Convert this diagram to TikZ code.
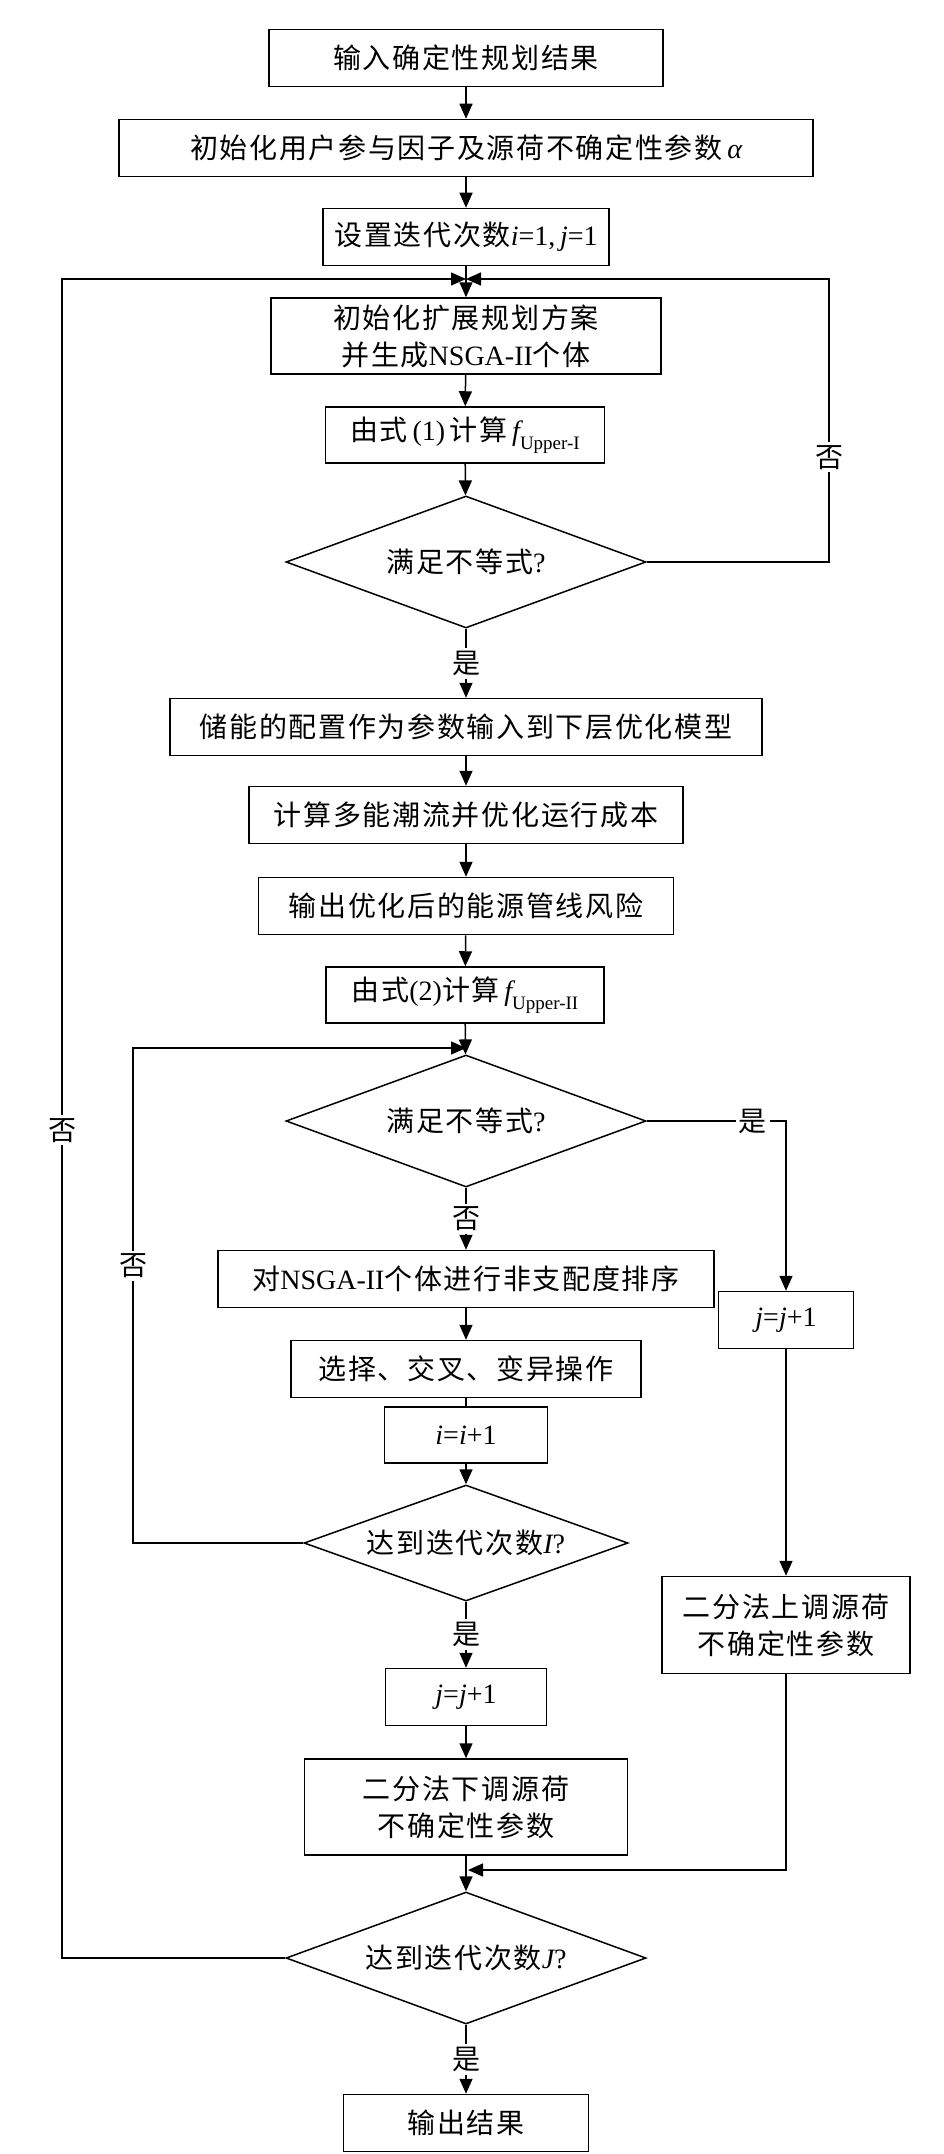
\documentclass[tikz,border=0pt]{standalone}
\usepackage{fontspec}
\setmainfont{Liberation Serif}
\newfontfamily\cjk[LetterSpace=6]{Noto Sans CJK SC}
\usetikzlibrary{shapes.geometric,arrows.meta}
\newcommand{\ital}[1]{{\rmfamily\itshape #1}}
\newcommand{\rmt}[1]{{\rmfamily #1}}
\newcommand{\subsc}[1]{\raisebox{-0.3em}{\rmfamily\fontsize{19}{19}\selectfont #1}}
\begin{document}
\begin{tikzpicture}[x=1pt,y=-1pt,
  txt/.style={font={\cjk\fontsize{28}{37}\selectfont}},
  box/.style={txt,draw,line width=1.5pt,inner sep=0pt,align=center,minimum height=57pt},
  dia/.style={txt,draw,line width=1.5pt,diamond,aspect=2.73,inner sep=0pt,minimum width=360pt,minimum height=132pt},
  lab/.style={txt,fill=white,inner sep=3pt},
  arr/.style={line width=1.5pt,-{Triangle[length=15pt,width=13pt]}},
  ln/.style={line width=1.5pt}]
\useasboundingbox (0,0) rectangle (944,2154);
% main column
\node[box,minimum width=394pt] (b1) at (466,58) {输入确定性规划结果};
\node[box,minimum width=694pt] (b2) at (466,148) {初始化用户参与因子及源荷不确定性参数\,\ital{α}};
\node[box,minimum width=286pt] (b3) at (466,237) {设置迭代次数\ital{i}\rmt{=1,\,}\ital{j}\rmt{=1}};
\node[box,minimum width=390pt,minimum height=76pt] (b4) at (466,336) {初始化扩展规划方案\\并生成\rmt{NSGA-II}个体};
\node[box,minimum width=279pt,minimum height=56pt] (b5) at (465,435) {由式\,\rmt{(1)}\,计算\,\ital{f}\subsc{Upper-I}};
\node[dia] (d1) at (466,562) {满足不等式\rmt{?}};
\node[box,minimum width=592pt] (b6) at (466,727) {储能的配置作为参数输入到下层优化模型};
\node[box,minimum width=434pt] (b7) at (466,815) {计算多能潮流并优化运行成本};
\node[box,minimum width=415pt] (b8) at (466,906) {输出优化后的能源管线风险};
\node[box,minimum width=278pt,minimum height=56pt] (b9) at (465,995) {由式\rmt{(2)}计算\,\ital{f}\subsc{Upper-II}};
\node[dia] (d2) at (466,1121) {满足不等式\rmt{?}};
\node[box,minimum width=496pt] (b10) at (466,1279) {对\rmt{NSGA-II}个体进行非支配度排序};
\node[box,minimum width=350pt] (b11) at (466,1369) {选择、交叉、变异操作};
\node[box,minimum width=163pt,minimum height=56pt] (b12) at (466,1435) {\ital{i}\rmt{=}\ital{i}\rmt{+1}};
\node[dia,aspect=2.79,minimum width=324pt,minimum height=116pt] (d3) at (466,1543) {达到迭代次数\ital{I}\rmt{?}};
\node[box,minimum width=161pt] (b13) at (466,1697) {\ital{j}\rmt{=}\ital{j}\rmt{+1}};
\node[box,minimum width=323pt,minimum height=96pt] (b14) at (466,1807) {二分法下调源荷\\不确定性参数};
\node[dia] (d4) at (466,1958) {达到迭代次数\ital{J}\rmt{?}};
\node[box,minimum width=245pt] (b15) at (466,2123) {输出结果};
% right column
\node[box,minimum width=135pt] (bj1) at (786,1320) {\ital{j}\rmt{=}\ital{j}\rmt{+1}};
\node[box,minimum width=248pt,minimum height=97pt] (br2) at (786,1625) {二分法上调源荷\\不确定性参数};
% junction coordinates
\coordinate (j1) at (466,279);
\coordinate (j2) at (466,1048);
\coordinate (j3) at (468,1870);
\coordinate (r1) at (829,562);
\coordinate (r2) at (829,279);
\coordinate (l1) at (62,1958);
\coordinate (l2) at (62,279);
\coordinate (i1) at (133,1543);
\coordinate (i2) at (133,1048);
\coordinate (y1) at (786,1121);
\coordinate (m1) at (786,1870);
% main connectors
\draw[arr] (b1) -- (b2);
\draw[arr] (b2) -- (b3);
\draw[arr] (b3) -- (b4);
\draw[arr] (b4) -- (b5);
\draw[arr] (b5) -- (d1);
\draw[arr] (d1) -- node[lab]{是} (b6);
\draw[arr] (b6) -- (b7);
\draw[arr] (b7) -- (b8);
\draw[arr] (b8) -- (b9);
\draw[arr] (b9) -- (d2);
\draw[arr] (d2) -- node[lab]{否} (b10);
\draw[arr] (b10) -- (b11);
\draw[ln] (b11) -- (b12);
\draw[arr] (b12) -- (d3);
\draw[arr] (d3) -- node[lab]{是} (b13);
\draw[arr] (b13) -- (b14);
\draw[arr] (b14) -- (d4);
\draw[arr] (d4) -- node[lab]{是} (b15);
% loops
\draw[arr] (d1.east) -- (r1) -- node[lab,pos=0.37]{否} (r2) -- (j1);
\draw[arr] (d4.west) -- (l1) -- node[lab,pos=0.493]{否} (l2) -- (j1);
\draw[arr] (d3.west) -- (i1) -- node[lab,pos=0.56]{否} (i2) -- (j2);
\draw[arr] (d2.east) -- node[lab,pos=0.76]{是} (y1) -- (bj1.north);
\draw[arr] (bj1) -- (br2);
\draw[arr] (br2.south) -- (m1) -- (j3);
\end{tikzpicture}
\end{document}
